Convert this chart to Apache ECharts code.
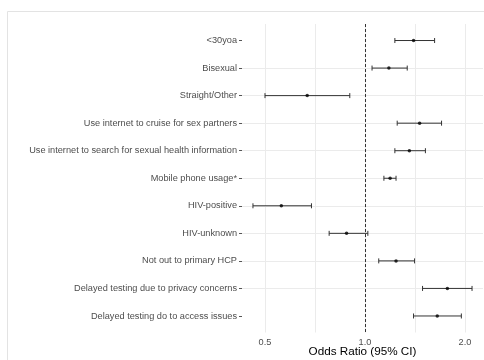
<!DOCTYPE html>
<html>
<head>
<meta charset="utf-8">
<script src="https://cdn.jsdelivr.net/npm/echarts@6/dist/echarts.min.js"></script>
<style>
  html, body { margin: 0; padding: 0; background: #ffffff; }
  #chart { width: 484px; height: 360px; }
</style>
</head>
<body>
<div id="chart"></div>
<script>
// Predictors, top to bottom
const categories = [
  '<30yoa',
  'Bisexual',
  'Straight/Other',
  'Use internet to cruise for sex partners',
  'Use internet to search for sexual health information',
  'Mobile phone usage*',
  'HIV-positive',
  'HIV-unknown',
  'Not out to primary HCP',
  'Delayed testing due to privacy concerns',
  'Delayed testing do to access issues'
];
// Odds ratios with 95% confidence limits
const oddsRatio = [1.40, 1.18, 0.67, 1.46, 1.36, 1.19, 0.56, 0.88, 1.24, 1.77, 1.65];
const ciLower   = [1.23, 1.05, 0.50, 1.25, 1.23, 1.14, 0.46, 0.78, 1.10, 1.49, 1.40];
const ciUpper   = [1.62, 1.34, 0.90, 1.70, 1.52, 1.24, 0.69, 1.02, 1.41, 2.10, 1.95];
// Labelled x ticks and the null-effect reference
const xTickLabels = ['0.5', '1.0', '2.0'];
const referenceOR = 1;

// x limits: data range widened by 5% on the log scale
const logLo = Math.log2(Math.min(...ciLower));
const logHi = Math.log2(Math.max(...ciUpper));
const logPad = (logHi - logLo) * 0.05;
const xMin = Math.pow(2, logLo - logPad);
const xMax = Math.pow(2, logHi + logPad);

const rows = categories.map((c, i) => i);
const barData = categories.map((c, i) => [ciLower[i], ciUpper[i], i]);
const pointData = categories.map((c, i) => [oddsRatio[i], i]);

const FONT = 'Liberation Sans, Arial, sans-serif';
const GRID = '#ebebeb';

const chart = echarts.init(document.getElementById('chart'), null, { renderer: 'canvas' });
chart.setOption({
  animation: false,
  backgroundColor: '#ffffff',
  textStyle: { fontFamily: FONT },
  graphic: [
    { type: 'line', silent: true, shape: { x1: 7.5, y1: 11.5, x2: 484, y2: 11.5 }, style: { stroke: '#e3e3e3', lineWidth: 1 } },
    { type: 'line', silent: true, shape: { x1: 7.5, y1: 11.5, x2: 7.5, y2: 360 }, style: { stroke: '#e3e3e3', lineWidth: 1 } }
  ],
  grid: { left: 242, right: 1, top: 24, bottom: 27.5, containLabel: false, outerBoundsMode: 'none' },
  xAxis: {
    type: 'log',
    logBase: Math.SQRT2,
    min: xMin,
    max: xMax,
    name: 'Odds Ratio (95% CI)',
    nameLocation: 'middle',
    nameGap: 13,
    nameMoveOverlap: false,
    nameTextStyle: { color: '#000000', fontSize: 11.7, fontFamily: FONT },
    axisLine: { show: false },
    axisTick: { show: false },
    axisLabel: {
      color: '#4d4d4d', fontSize: 9.2, fontFamily: FONT, margin: 5,
      showMinLabel: false, showMaxLabel: false,
      formatter: v => xTickLabels.find(t => Math.abs(parseFloat(t) - v) < 1e-6) || ''
    },
    splitLine: { show: true, showMinLine: false, showMaxLine: false, lineStyle: { color: GRID, width: 1 } }
  },
  yAxis: {
    type: 'value',
    inverse: true,
    min: -0.6,
    max: 10.6,
    axisLine: { show: false },
    axisTick: { show: true, length: 3, customValues: rows, lineStyle: { color: '#555555', width: 1 } },
    axisLabel: {
      customValues: rows,
      color: '#4d4d4d', fontSize: 9.2, fontFamily: FONT, margin: 5,
      formatter: v => categories[Math.round(v)]
    },
    splitLine: { show: true, showMinLine: false, showMaxLine: false, lineStyle: { color: GRID, width: 1 } }
  },
  series: [
    {
      type: 'custom',
      data: barData,
      encode: { x: [0, 1], y: 2 },
      silent: true,
      renderItem: (params, api) => {
        const row = api.value(2);
        const a = api.coord([api.value(0), row]);
        const b = api.coord([api.value(1), row]);
        const h = 2.5;
        const st = { stroke: '#333333', lineWidth: 1 };
        return {
          type: 'group',
          children: [
            { type: 'line', shape: { x1: a[0], y1: a[1], x2: b[0], y2: b[1] }, style: st },
            { type: 'line', shape: { x1: a[0], y1: a[1] - h, x2: a[0], y2: a[1] + h }, style: st },
            { type: 'line', shape: { x1: b[0], y1: b[1] - h, x2: b[0], y2: b[1] + h }, style: st }
          ]
        };
      }
    },
    {
      type: 'scatter',
      data: pointData,
      symbol: 'circle',
      symbolSize: 3.5,
      itemStyle: { color: '#000000' },
      silent: true,
      markLine: {
        silent: true,
        symbol: ['none', 'none'],
        label: { show: false },
        lineStyle: { color: '#333333', width: 1, type: [3, 2] },
        data: [{ xAxis: referenceOR }]
      }
    }
  ]
});
</script>
</body>
</html>
